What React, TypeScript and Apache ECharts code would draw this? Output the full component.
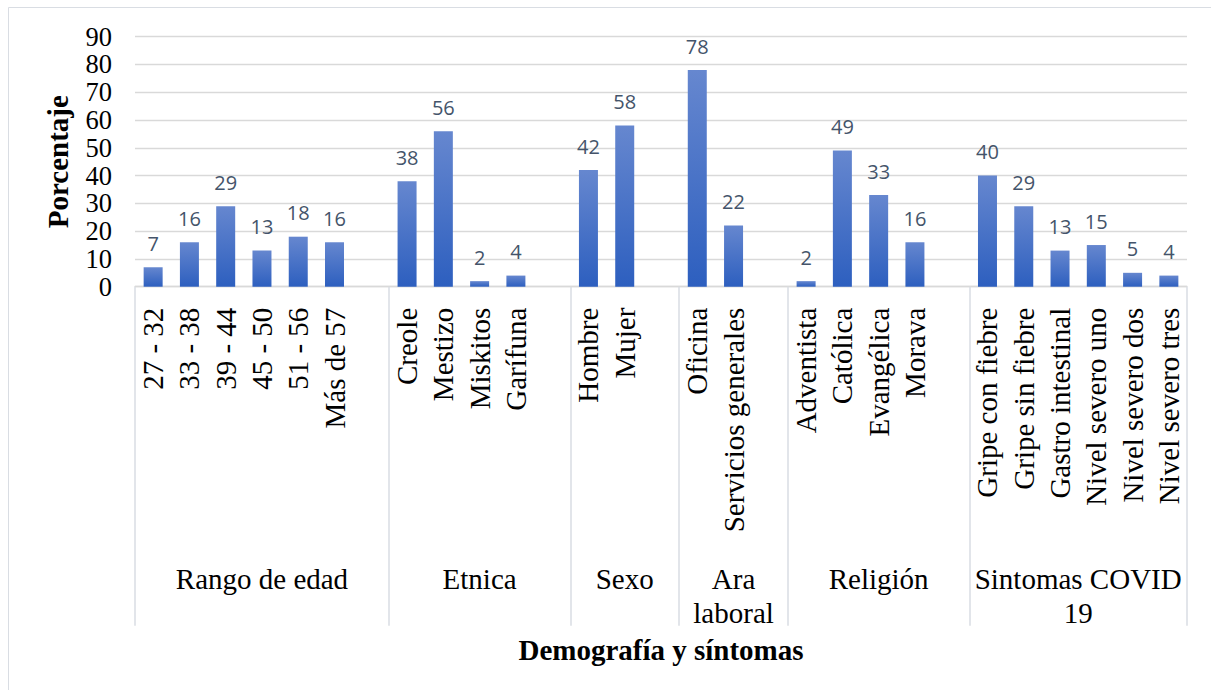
import React, { useEffect, useRef } from "react";
import * as echarts from "echarts";

const ageLabels = ["27 - 32", "33 - 38", "39 - 44", "45 - 50", "51 - 56", "Más de 57"];
const ageValues = [7, 16, 29, 13, 18, 16];
const ethnicLabels = ["Creole", "Mestizo", "Miskitos", "Garífuna"];
const ethnicValues = [38, 56, 2, 4];
const sexLabels = ["Hombre", "Mujer"];
const sexValues = [42, 58];
const workLabels = ["Oficina", "Servicios generales"];
const workValues = [78, 22];
const religionLabels = ["Adventista", "Católica", "Evangélica", "Morava"];
const religionValues = [2, 49, 33, 16];
const covidLabels = [
  "Gripe con fiebre",
  "Gripe sin fiebre",
  "Gastro intestinal",
  "Nivel severo uno",
  "Nivel severo dos",
  "Nivel severo tres",
];
const covidValues = [40, 29, 13, 15, 5, 4];
const groupNames = ["Rango de edad", "Etnica", "Sexo", "Ara\nlaboral", "Religión", "Sintomas COVID\n19"];
const yTicks = [0, 10, 20, 30, 40, 50, 60, 70, 80, 90];

const groups = [
  { labels: ageLabels, values: ageValues },
  { labels: ethnicLabels, values: ethnicValues },
  { labels: sexLabels, values: sexValues },
  { labels: workLabels, values: workValues },
  { labels: religionLabels, values: religionValues },
  { labels: covidLabels, values: covidValues },
];

export default function App() {
  const ref = useRef<HTMLDivElement>(null);
  useEffect(() => {
    if (!ref.current) return;
    const chart = echarts.init(ref.current, undefined, { renderer: "svg" });

    const categories: string[] = [];
    const values: (number | string)[] = [];
    const boundaries: number[] = [0];
    const centers: number[] = [];
    const centerNames: Record<string, string> = {};
    groups.forEach((g, gi) => {
      const start = categories.length;
      g.labels.forEach((l, i) => {
        categories.push(l);
        values.push(g.values[i]);
      });
      if (gi < groups.length - 1) {
        categories.push("");
        values.push("-");
      }
      const end = categories.length;
      boundaries.push(end);
      const c = (start + end) / 2;
      centers.push(c);
      centerNames[String(c)] = groupNames[gi];
    });
    const total = categories.length;
    const serif = "'Liberation Serif', 'Times New Roman', serif";

    chart.setOption({
      animation: false,
      graphic: [
        {
          type: "rect",
          shape: { x: 8.5, y: 7.5, width: 1300, height: 800 },
          style: { fill: "none", stroke: "#d9dde3", lineWidth: 1 },
          silent: true,
        },
      ],
      grid: { left: 135, right: 24, top: 36.7, bottom: 403.3 },
      yAxis: {
        type: "value",
        min: yTicks[0],
        max: yTicks[yTicks.length - 1],
        interval: 10,
        name: "Porcentaje",
        nameLocation: "middle",
        nameRotate: 90,
        nameGap: 63,
        nameTextStyle: { fontFamily: serif, fontSize: 29, fontWeight: "bold", color: "#000" },
        axisLine: { show: false },
        axisTick: { show: false },
        axisLabel: {
          fontFamily: serif,
          fontSize: 26.5,
          color: "#000",
          margin: 23,
          showMinLabel: true,
          showMaxLabel: true,
          hideOverlap: false,
        },
        splitLine: { lineStyle: { color: "#d9d9d9", width: 1.3 } },
      },
      xAxis: [
        {
          type: "category",
          data: categories,
          position: "bottom",
          axisLine: { lineStyle: { color: "#d9d9d9", width: 1.3 } },
          axisTick: { show: false },
          axisLabel: {
            interval: 0,
            rotate: 90,
            fontFamily: serif,
            fontSize: 29,
            color: "#000",
            margin: 21,
          },
        },
        {
          type: "value",
          min: 0,
          max: total,
          position: "bottom",
          name: "Demografía y síntomas",
          nameLocation: "middle",
          nameGap: 349,
          nameTextStyle: { fontFamily: serif, fontSize: 29, fontWeight: "bold", color: "#000" },
          axisLine: { show: false },
          splitLine: { show: false },
          axisTick: {
            show: true,
            inside: false,
            length: 339,
            customValues: boundaries,
            lineStyle: { color: "#d9dde3", width: 1.5 },
          },
          axisLabel: {
            show: true,
            customValues: centers,
            margin: 275,
            fontFamily: serif,
            fontSize: 29,
            lineHeight: 34,
            color: "#000",
            align: "center",
            formatter: (v: number) => centerNames[String(v)] ?? "",
          },
        },
      ],
      series: [
        {
          type: "bar",
          xAxisIndex: 0,
          data: values,
          barWidth: 19,
          itemStyle: {
            color: new echarts.graphic.LinearGradient(0, 0, 0, 1, [
              { offset: 0, color: "#6687cf" },
              { offset: 1, color: "#2d5fbf" },
            ]),
          },
          label: {
            show: true,
            position: "top",
            distance: 14,
            fontFamily: "'Open Sans', sans-serif",
            fontSize: 20,
            color: "#44546a",
          },
        },
      ],
    });
    return () => chart.dispose();
  }, []);
  return (
    <div
      ref={ref}
      style={{ position: "fixed", left: 0, top: 0, width: 1211, height: 690, background: "#fff" }}
    />
  );
}
